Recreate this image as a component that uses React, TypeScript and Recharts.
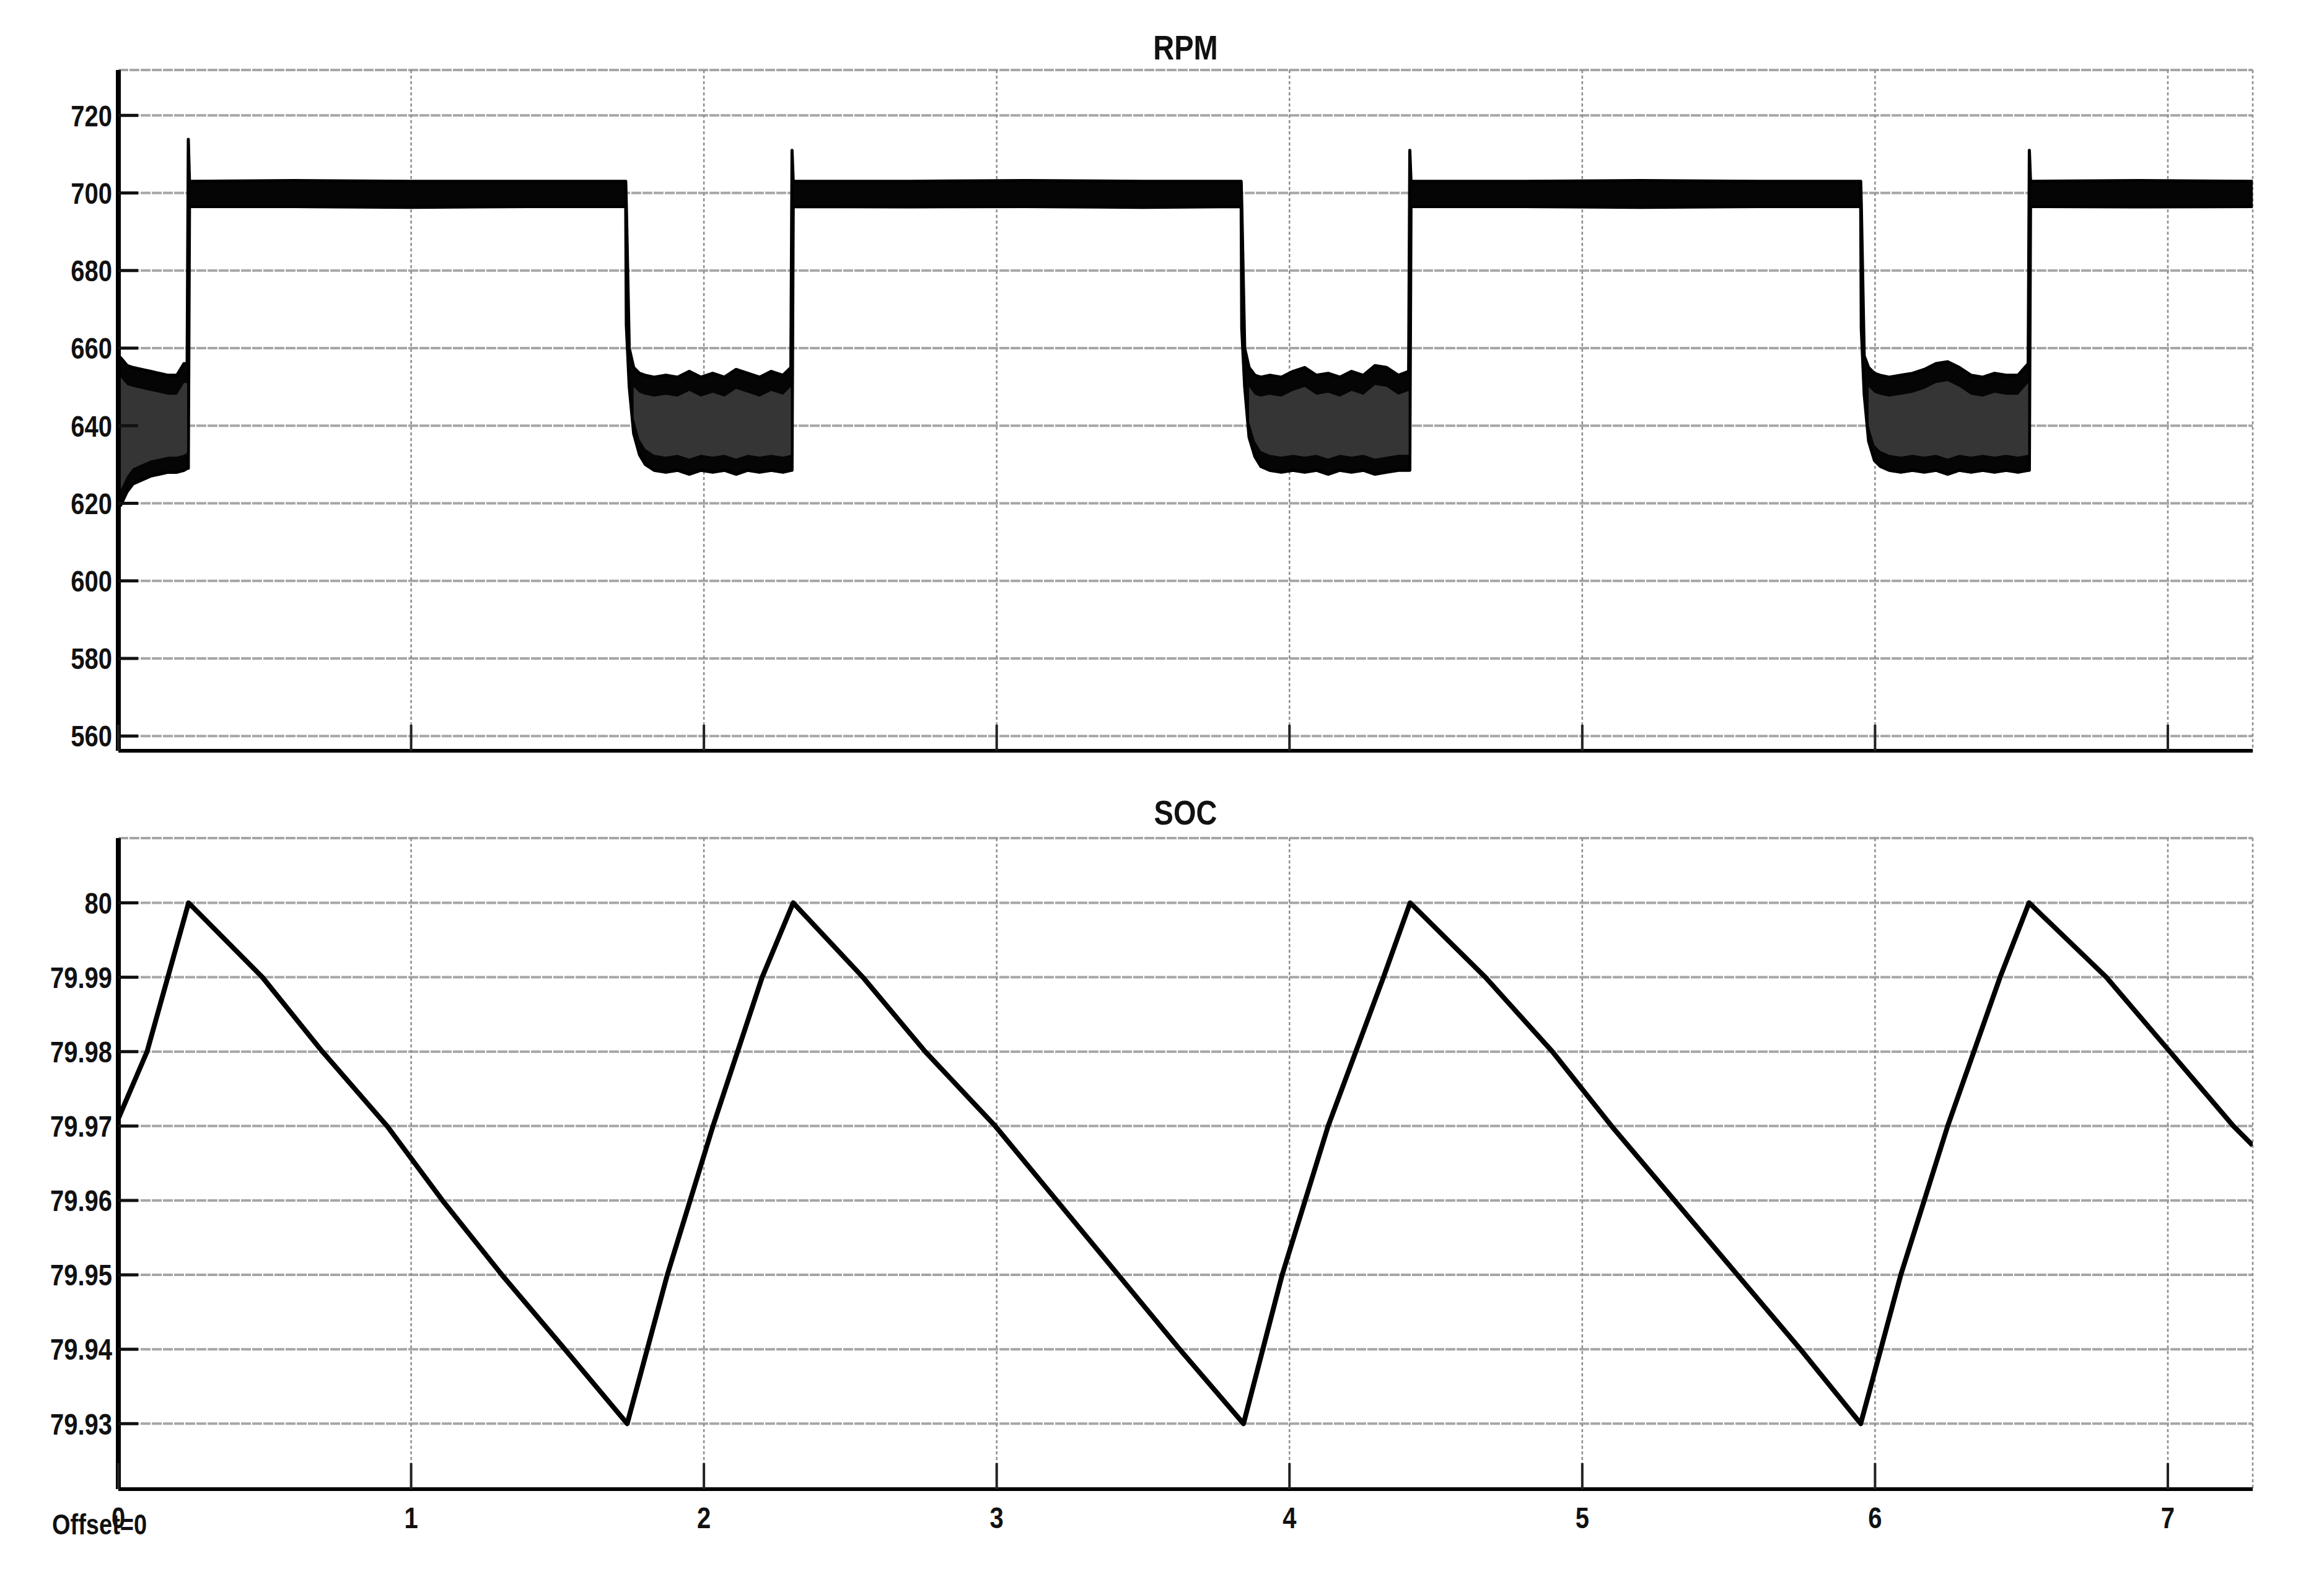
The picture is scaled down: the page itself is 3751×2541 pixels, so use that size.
import React from "react";
import { ComposedChart, Area, Line, XAxis, YAxis, CartesianGrid } from "recharts";

const FONT = '"Liberation Sans", Arial, Helvetica, sans-serif';

// time axis, seconds
const timeTicks = [0, 1, 2, 3, 4, 5, 6, 7];

// RPM trace: the signal rings fast, so it is kept as its envelope (lower / upper edge)
const rpmTime = [
  0, 0.008, 0.03, 0.05, 0.08, 0.11, 0.14, 0.17, 0.2, 0.224, 0.235, 0.239, 0.243,
  0.6, 1.0, 1.4, 1.733,
  1.735, 1.745, 1.76, 1.78, 1.8, 1.83, 1.87, 1.91, 1.95, 1.99, 2.03, 2.07, 2.11, 2.15, 2.19, 2.23, 2.27, 2.297, 2.301, 2.305,
  2.7, 3.1, 3.5, 3.835,
  3.837, 3.847, 3.862, 3.882, 3.902, 3.932, 3.972, 4.012, 4.052, 4.092, 4.132, 4.172, 4.212, 4.252, 4.292, 4.332, 4.372, 4.407, 4.411, 4.415,
  4.8, 5.2, 5.6, 5.951,
  5.953, 5.963, 5.978, 5.998, 6.018, 6.048, 6.088, 6.128, 6.168, 6.208, 6.248, 6.288, 6.328, 6.368, 6.408, 6.448, 6.488, 6.523, 6.527, 6.531,
  6.9, 7.29,
];
const rpmLow = [
  621, 619.5, 623, 625, 626, 627, 627.5, 628, 628, 628.5, 629, 629, 696.5,
  696.5, 696.3, 696.5, 696.5,
  666, 650, 638, 632.5, 630, 628.5, 628, 628.5, 627.5, 628.5, 628, 628.5, 627.5, 628.5, 628, 628.5, 628, 628.5, 628.5, 696.5,
  696.4, 696.5, 696.3, 696.5,
  665, 650, 637, 632, 629.5, 628.5, 628, 628.5, 628, 628.5, 627.5, 628.5, 628, 628.5, 627.5, 628, 628.5, 628.5, 628.5, 696.5,
  696.5, 696.3, 696.5, 696.5,
  665, 648, 636, 631, 629.5, 628.5, 628, 628.5, 628, 628.5, 627.5, 628.5, 628, 628.5, 628, 628.5, 628, 628.5, 628.5, 696.5,
  696.4, 696.5,
];
const rpmHigh = [
  658, 657.5, 655.5, 655, 654.5, 654, 653.5, 653, 653, 656, 656, 713.8, 703,
  703.2, 703, 703, 703,
  697, 660, 655, 653.5, 653, 652.5, 653, 652.5, 654, 652.5, 653.5, 652.5, 654.5, 653.5, 652.5, 654, 653, 655, 711, 703,
  703, 703.2, 703, 703,
  697, 660, 655, 653, 652.5, 653, 652.5, 654, 655, 653, 653.5, 652.5, 654, 653, 655.5, 655, 653, 654, 711, 703,
  703, 703.2, 703, 703,
  697, 658, 655, 653.5, 653, 652.5, 653, 653.5, 654.5, 656, 656.5, 655, 653, 652.5, 653.5, 653, 653, 656, 711, 703,
  703.2, 703,
];
const rpmTicks = [560, 580, 600, 620, 640, 660, 680, 700, 720];

// battery state of charge
const socTime = [
  0, 0.098, 0.24, 0.492, 0.697, 0.918, 1.107, 1.31, 1.525, 1.738,
  1.875, 2.031, 2.199, 2.305, 2.543, 2.756, 2.995, 3.205, 3.415, 3.625, 3.843,
  3.975, 4.132, 4.321, 4.412, 4.669, 4.898, 5.1, 5.315, 5.53, 5.745, 5.951,
  6.088, 6.248, 6.427, 6.526, 6.79, 7.007, 7.224, 7.29,
];
const socValue = [
  79.971, 79.98, 80, 79.99, 79.98, 79.97, 79.96, 79.95, 79.94, 79.93,
  79.95, 79.97, 79.99, 80, 79.99, 79.98, 79.97, 79.96, 79.95, 79.94, 79.93,
  79.95, 79.97, 79.99, 80, 79.99, 79.98, 79.97, 79.96, 79.95, 79.94, 79.93,
  79.95, 79.97, 79.99, 80, 79.99, 79.98, 79.97, 79.9674,
];
const socTicks = [79.93, 79.94, 79.95, 79.96, 79.97, 79.98, 79.99, 80];

// the low-speed stretches show a grey core inside the black edges
const rpmData = rpmTime.map((t, i) => {
  const lo = rpmLow[i];
  const hi = rpmHigh[i];
  const inLowBand = hi < 670 && lo < 640;
  return { t, band: [lo, hi], core: inLowBand ? [lo + 4, hi - 5] : null };
});

const socData = socTime.map((t, i) => ({ t, soc: socValue[i] }));

const W = 3751;
const PLOT_LEFT = 191;
const PLOT_RIGHT = 3636;
const Y_TICK_LEN = 32;
const X_TICK_LEN = 42;
const LABEL_GAP = 10;
const X_LABEL_GAP = 29;

const labelStyle = {
  fontFamily: FONT,
  fontWeight: "bold" as const,
  fill: "#111",
};

const leftTick = (props: any) => {
  const { x, y, payload } = props;
  const axisX = x + LABEL_GAP;
  return (
    <g>
      <line x1={axisX} x2={axisX + Y_TICK_LEN} y1={y} y2={y} stroke="#111" strokeWidth={5} />
      <g transform={`translate(${x},${y}) scale(1,1.2)`}>
        <text textAnchor="end" dy="0.36em" fontSize={40} {...labelStyle}>
          {payload.value}
        </text>
      </g>
    </g>
  );
};

const rightTick = (props: any) => {
  const { x, y } = props;
  return <line x1={x} x2={x - Y_TICK_LEN} y1={y} y2={y} stroke="#111" strokeWidth={5} />;
};

const topTick = (props: any) => {
  const { x, y } = props;
  return <line x1={x} x2={x} y1={y} y2={y + X_TICK_LEN} stroke="#222" strokeWidth={4} />;
};

const bottomTick = (withLabel: boolean) => (props: any) => {
  const { x, y, payload } = props;
  const axisY = y - (withLabel ? X_LABEL_GAP : 0);
  return (
    <g>
      <line x1={x} x2={x} y1={axisY} y2={axisY - X_TICK_LEN} stroke="#222" strokeWidth={4} />
      {withLabel && (
        <g transform={`translate(${x},${y}) scale(1,1.18)`}>
          <text textAnchor="middle" dy="0.72em" fontSize={40} {...labelStyle}>
            {payload.value}
          </text>
        </g>
      )}
    </g>
  );
};

function Frame({ yDomain, yTicks }: { yDomain: number[]; yTicks: number[] }) {
  return [
    <CartesianGrid
      key="gh"
      xAxisId="b"
      yAxisId="l"
      vertical={false}
      stroke="#a6a6a6"
      strokeWidth={4}
      strokeDasharray="16 2"
    />,
    <CartesianGrid
      key="gv"
      xAxisId="b"
      yAxisId="l"
      horizontal={false}
      stroke="#8f8f8f"
      strokeWidth={2.5}
      strokeDasharray="5 4"
    />,
    <YAxis
      key="yl"
      yAxisId="l"
      type="number"
      domain={yDomain}
      ticks={yTicks}
      allowDataOverflow
      interval={0}
      width={PLOT_LEFT}
      tickSize={0}
      tickMargin={LABEL_GAP}
      tickLine={false}
      tick={leftTick}
      axisLine={{ stroke: "#000", strokeWidth: 8 }}
    />,
    <YAxis
      key="yr"
      yAxisId="r"
      orientation="right"
      type="number"
      domain={yDomain}
      ticks={yTicks}
      allowDataOverflow
      interval={0}
      width={0}
      tickSize={0}
      tickMargin={0}
      tickLine={false}
      tick={rightTick}
      axisLine={{ stroke: "#000", strokeWidth: 5 }}
    />,
    <XAxis
      key="xt"
      xAxisId="t"
      orientation="top"
      dataKey="t"
      type="number"
      domain={[0, 7.29]}
      ticks={timeTicks}
      allowDataOverflow
      interval={0}
      height={0}
      tickSize={0}
      tickMargin={0}
      tickLine={false}
      tick={topTick}
      axisLine={{ stroke: "#000", strokeWidth: 6 }}
    />,
  ];
}

function Title({ text, baseline }: { text: string; baseline: number }) {
  return (
    <div
      style={{
        position: "absolute",
        left: PLOT_LEFT,
        width: PLOT_RIGHT - PLOT_LEFT,
        top: baseline - 38.4,
        height: 47,
        lineHeight: "47px",
        fontSize: 47,
        fontFamily: FONT,
        fontWeight: "bold",
        color: "#111",
        textAlign: "center",
        transform: "scaleY(1.2)",
        transformOrigin: "50% 100%",
      }}
    >
      {text}
    </div>
  );
}

export default function App() {
  return (
    <div
      style={{
        position: "absolute",
        left: 0,
        top: 0,
        width: W,
        height: 2541,
        background: "#fff",
        overflow: "hidden",
      }}
    >
      <Title text="RPM" baseline={95} />
      <div style={{ position: "absolute", left: 0, top: 0 }}>
        <ComposedChart
          width={W}
          height={1250}
          data={rpmData}
          margin={{ top: 113, right: W - PLOT_RIGHT, bottom: 0, left: 0 }}
        >
          {Frame({ yDomain: [556.2, 731.7], yTicks: rpmTicks })}
          <XAxis
            xAxisId="b"
            dataKey="t"
            type="number"
            domain={[0, 7.29]}
            ticks={timeTicks}
            allowDataOverflow
            interval={0}
            height={38}
            tickSize={0}
            tickMargin={0}
            tickLine={false}
            tick={bottomTick(false)}
            axisLine={{ stroke: "#000", strokeWidth: 6 }}
          />
          <Area
            xAxisId="b"
            yAxisId="l"
            type="linear"
            dataKey="band"
            fill="#050505"
            fillOpacity={1}
            stroke="#000"
            strokeWidth={5}
            strokeLinejoin="round"
            dot={false}
            activeDot={false}
            isAnimationActive={false}
          />
          <Area
            xAxisId="b"
            yAxisId="l"
            type="linear"
            dataKey="core"
            fill="#353535"
            fillOpacity={1}
            stroke="none"
            dot={false}
            activeDot={false}
            isAnimationActive={false}
          />
        </ComposedChart>
      </div>

      <Title text="SOC" baseline={1330} />
      <div style={{ position: "absolute", left: 0, top: 1250 }}>
        <ComposedChart
          width={W}
          height={1291}
          data={socData}
          margin={{ top: 103, right: W - PLOT_RIGHT, bottom: 0, left: 0 }}
        >
          {Frame({ yDomain: [79.9212, 80.0087], yTicks: socTicks })}
          <XAxis
            xAxisId="b"
            dataKey="t"
            type="number"
            domain={[0, 7.29]}
            ticks={timeTicks}
            allowDataOverflow
            interval={0}
            height={137}
            tickSize={0}
            tickMargin={X_LABEL_GAP}
            tickLine={false}
            tick={bottomTick(true)}
            axisLine={{ stroke: "#000", strokeWidth: 6 }}
          />
          <Line
            xAxisId="b"
            yAxisId="l"
            type="linear"
            dataKey="soc"
            stroke="#000"
            strokeWidth={8}
            strokeLinejoin="round"
            dot={false}
            activeDot={false}
            isAnimationActive={false}
          />
        </ComposedChart>
      </div>

      <div
        style={{
          position: "absolute",
          left: 84,
          top: 2446,
          height: 38,
          lineHeight: "38px",
          fontSize: 38,
          fontFamily: FONT,
          fontWeight: "bold",
          color: "#111",
          whiteSpace: "nowrap",
          transform: "scaleY(1.2)",
          transformOrigin: "0 100%",
        }}
      >
        Offset=0
      </div>
    </div>
  );
}
